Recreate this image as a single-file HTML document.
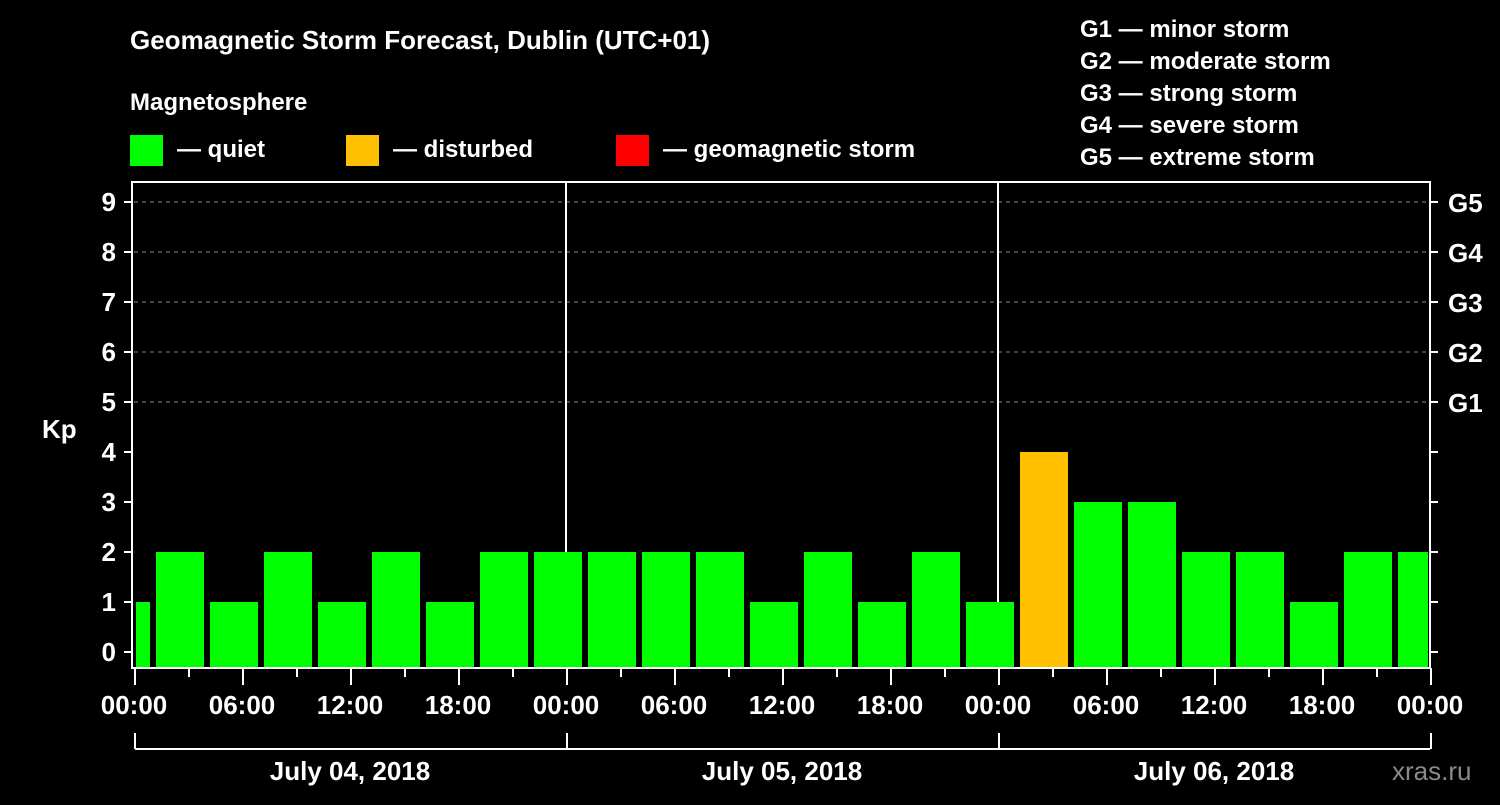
<!DOCTYPE html>
<html><head><meta charset="utf-8"><style>
body{margin:0;background:#000;width:1500px;height:800px;overflow:hidden;font-family:"Liberation Sans",sans-serif}
svg text{font-family:"Liberation Sans",sans-serif;font-weight:bold;fill:#fff}
</style></head><body>
<svg id="c" width="1500" height="800">
<text x="130" y="49" font-size="26">Geomagnetic Storm Forecast, Dublin (UTC+01)</text>
<text x="130" y="110" font-size="24">Magnetosphere</text>
<g><rect x="130" y="135" width="33" height="31" fill="#00ff00"/><text x="177" y="157" font-size="24">— quiet</text></g>
<g><rect x="346" y="135" width="33" height="31" fill="#ffc000"/><text x="393" y="157" font-size="24">— disturbed</text></g>
<g><rect x="616" y="135" width="33" height="31" fill="#ff0000"/><text x="663" y="157" font-size="24">— geomagnetic storm</text></g>
<g font-size="24">
<text x="1080" y="37">G1 — minor storm</text><text x="1080" y="69">G2 — moderate storm</text><text x="1080" y="101">G3 — strong storm</text><text x="1080" y="133">G4 — severe storm</text><text x="1080" y="165">G5 — extreme storm</text></g>
<text x="42" y="438" font-size="26">Kp</text>
<text x="1392" y="780" font-size="26" fill="#888" style="fill:#8a8a8a;font-weight:normal">xras.ru</text>
<g id="plot"></g>
</svg>
<script>
const kpValues=[1,2,1,2,1,2,1,2,2, 2,2,2,1,2,1,2,1, 4,3,3,2,2,1,2,2];
const barStartHours=[-2,1,4,7,10,13,16,19,22,25,28,31,34,37,40,43,46,49,52,55,58,61,64,67,70];
const dayLabels=["July 04, 2018","July 05, 2018","July 06, 2018"];
const hourLabels=["00:00","06:00","12:00","18:00"];
const gLabels=["G1","G2","G3","G4","G5"];
const NS="http://www.w3.org/2000/svg";
const L=134,R=1430,T=182,B=668;
const x=h=>L+h*18;
const y=k=>652-k*50;
const g=document.getElementById('plot');
function mk(t,a){const e=document.createElementNS(NS,t);for(const k in a)e.setAttribute(k,a[k]);g.appendChild(e);return e;}
// gridlines
for(let k=5;k<=9;k++){const l=mk('line',{x1:L,x2:R,y1:y(k),y2:y(k),stroke:'#888','stroke-dasharray':'4,4','stroke-width':1});

}
// day separators
for(let d=1;d<3;d++){const l=mk('line',{x1:x(24*d),x2:x(24*d),y1:T,y2:B,stroke:'#fff','stroke-width':2});

}
// bars
kpValues.forEach((v,i)=>{let x0=Math.max(x(barStartHours[i])+4,L+2),x1=Math.min(x(barStartHours[i]+3)-2,R-2);
const col=v>=5?'#ff0000':(v>=4?'#ffc000':'#00ff00');
const r=mk('rect',{x:x0,y:y(v),width:x1-x0,height:B-y(v),fill:col});

});
// frame
const f=mk('rect',{x:L-2,y:T,width:R-L+2,height:B-T,fill:'none',stroke:'#fff','stroke-width':2});


// y ticks/labels
for(let k=0;k<=9;k++){mk('line',{x1:L-10,x2:L-2,y1:y(k),y2:y(k),stroke:'#fff','stroke-width':2});
mk('line',{x1:R,x2:R+8,y1:y(k),y2:y(k),stroke:'#fff','stroke-width':2});
const t=mk('text',{x:116,y:y(k)+9,'font-size':26,'text-anchor':'end'});t.textContent=k;

}
gLabels.forEach((s,i)=>{const t=mk('text',{x:1448,y:y(5+i)+10,'font-size':26});t.textContent=s;

});
// x ticks
for(let h=0;h<=72;h+=3){const long=h%6==0;mk('line',{x1:x(h)+1,x2:x(h)+1,y1:B,y2:B+(long?17:9),stroke:'#fff','stroke-width':2});}
for(let h=0;h<=72;h+=6){const t=mk('text',{x:x(h),y:714,'font-size':26,'text-anchor':'middle'});t.textContent=hourLabels[(h/6)%4];

}
// day bracket
mk('line',{x1:L+1,x2:R,y1:749,y2:749,stroke:'#fff','stroke-width':2});
for(let d=0;d<=3;d++)mk('line',{x1:x(24*d)+1,x2:x(24*d)+1,y1:733,y2:749,stroke:'#fff','stroke-width':2});
dayLabels.forEach((s,d)=>{const t=mk('text',{x:x(24*d+12),y:780,'font-size':26,'text-anchor':'middle'});t.textContent=s;

});
</script>
</body></html>
